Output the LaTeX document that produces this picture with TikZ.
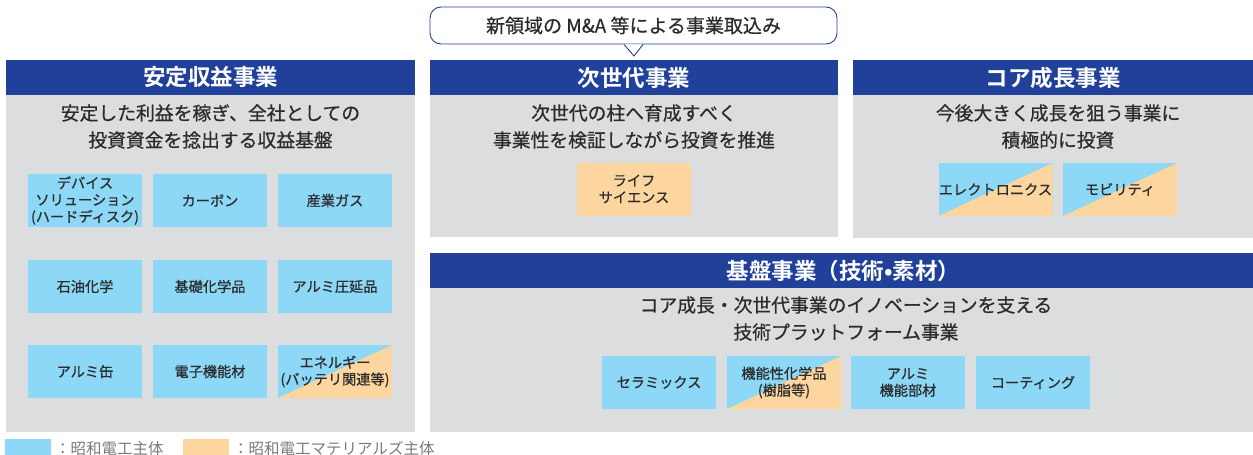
\documentclass[tikz,border=0pt]{standalone}
\usepackage{fontspec}
\setmainfont{Noto Sans CJK JP}[BoldFont={Noto Sans CJK JP Bold}]
\newfontfamily\medfont{Noto Sans CJK JP}[FakeBold=0.6]
\usetikzlibrary{calc}
\definecolor{hdrblue}{HTML}{21409A}
\definecolor{panelgray}{HTML}{DCDDDF}
\definecolor{boxblue}{HTML}{8DD7F7}
\definecolor{boxorange}{HTML}{FDD59E}
\definecolor{txtdark}{HTML}{2B2B2B}
\definecolor{legendgray}{HTML}{7A7A7A}
\tikzset{
  header/.style={fill=hdrblue, draw=none, text=white, font=\bfseries\fontsize{22.5}{24}\selectfont, inner sep=0pt},
  desc/.style={text=txtdark, font=\medfont\fontsize{18.8}{27}\selectfont, align=center, inner sep=0pt},
  bizbox/.style={minimum width=114pt, minimum height=53pt, inner sep=0pt, text=txtdark,
    font=\medfont\fontsize{14.2}{16.8}\selectfont, align=center},
  bluebox/.style={bizbox, fill=boxblue},
  orangebox/.style={bizbox, fill=boxorange},
  splitbox/.style={bizbox, fill=boxblue, path picture={\fill[boxorange] (path picture bounding box.south west) -- (path picture bounding box.south east) -- (path picture bounding box.north east) -- cycle;}},
  callout/.style={draw=hdrblue, line width=0.9pt, fill=white, rounded corners=11pt, minimum width=407pt, minimum height=37pt, inner sep=0pt, text=txtdark, font=\medfont\fontsize{19}{20}\selectfont},
  legendtext/.style={text=legendgray, font=\fontsize{15.5}{17}\selectfont, anchor=west, inner sep=0pt}
}
\begin{document}
\begin{tikzpicture}[x=1pt, y=-1pt]
\path[use as bounding box] (0,0) rectangle (1253,455);
\clip (0,0) rectangle (1253,455);

% ---- Panel 1: 安定収益事業
\fill[panelgray] (6,60) rectangle (415,432);
\node[header, minimum width=409pt, minimum height=35pt] (h1) at (210.5,77.5) {安定収益事業};
\node[desc] (d1) at (210.5,126.5) {安定した利益を稼ぎ、全社としての\\投資資金を捻出する収益基盤};
\node[bluebox] (b11) at (85,200.5) {デバイス\\ソリューション\\(ハードディスク)};
\node[bluebox] (b12) at (210,200.5) {カーボン};
\node[bluebox] (b13) at (335,200.5) {産業ガス};
\node[bluebox] (b21) at (85,286.5) {石油化学};
\node[bluebox] (b22) at (210,286.5) {基礎化学品};
\node[bluebox] (b23) at (335,286.5) {アルミ圧延品};
\node[bluebox] (b31) at (85,371.5) {アルミ缶};
\node[bluebox] (b32) at (210,371.5) {電子機能材};
\node[splitbox] (b33) at (335,371.5) {エネルギー\\(バッテリ関連等)};

% ---- Panel 2: 次世代事業
\fill[panelgray] (430,60) rectangle (838,237);
\node[header, minimum width=408pt, minimum height=35pt] (h2) at (634,77.5) {次世代事業};
\node[desc] (d2) at (634,126.5) {次世代の柱へ育成すべく\\事業性を検証しながら投資を推進};
\node[orangebox] (m1) at (634,189) {ライフ\\サイエンス};

% ---- Panel 3: コア成長事業
\fill[panelgray] (853,60) rectangle (1253,238);
\node[header, minimum width=400pt, minimum height=35pt] (h3) at (1053,77.5) {コア成長事業};
\node[desc] (d3) at (1058,126.5) {今後大きく成長を狙う事業に\\積極的に投資};
\node[splitbox] (r1) at (995.5,189.5) {エレクトロニクス};
\node[splitbox] (r2) at (1120,189.5) {モビリティ};

% ---- Panel 4: 基盤事業
\fill[panelgray] (430,253) rectangle (1253,432);
\fill[hdrblue] (430,253) rectangle (1253,288);
\node[header, fill=none] (h4) at (843.5,270.5) {基盤事業（技術•素材）};
\node[desc] (d4) at (846,318.5) {コア成長・次世代事業のイノベーションを支える\\技術プラットフォーム事業};
\node[bluebox] (f1) at (659,382.5) {セラミックス};
\node[splitbox] (f2) at (784,382.5) {機能性化学品\\(樹脂等)};
\node[bluebox] (f3) at (908,382.5) {アルミ\\機能部材};
\node[bluebox] (f4) at (1033,382.5) {コーティング};

% ---- Callout
\node[callout] (ma) at (633.5,25.5) {新領域の M\&A 等による事業取込み};
\coordinate (tip) at (634,56);
\fill[white] ($(ma.south)+(-9.5,-0.2)$) -- (tip) -- ($(ma.south)+(9.5,-0.2)$) -- cycle;
\draw[hdrblue, line width=0.9pt, line join=miter] ($(ma.south)+(-9.5,0)$) -- (tip) -- ($(ma.south)+(9.5,0)$);

% ---- Legend
\fill[boxblue] (5,439) rectangle (51,460);
\node[legendtext] (l1) at (55,449) {：昭和電工主体};
\fill[boxorange] (183,439) rectangle (229,460);
\node[legendtext] (l2) at (233,449) {：昭和電工マテリアルズ主体};
\end{tikzpicture}
\end{document}
